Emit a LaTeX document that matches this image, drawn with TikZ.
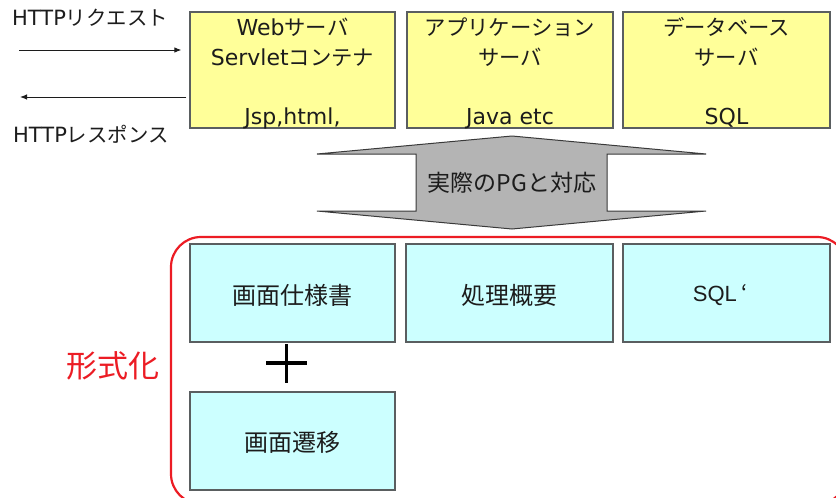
\documentclass[tikz,border=0pt]{standalone}
\usepackage{fontspec}
\setmainfont{DejaVu Sans}
\newfontfamily\jpfont[Scale=0.97]{Noto Sans CJK JP}
\newfontfamily\jpfontfull{Noto Sans CJK JP}
\newfontfamily\arialfont{Liberation Sans}
\usetikzlibrary{arrows.meta}

\newcommand\kana[1]{{\jpfont #1}}

\definecolor{boxedge}{HTML}{5A5E60}
\definecolor{srvyellow}{HTML}{FFFF99}
\definecolor{specblue}{HTML}{CCFFFF}
\definecolor{arrowgray}{HTML}{B4B4B4}
\definecolor{arrowedge}{HTML}{3A3A3A}
\definecolor{markred}{HTML}{EC1C24}
\definecolor{ink}{HTML}{1C1C1C}

\tikzset{
  srvbox/.style={draw=boxedge, fill=srvyellow, line width=1.2pt,
    minimum height=116pt, inner sep=0pt},
  specbox/.style={draw=boxedge, fill=specblue, line width=1.2pt,
    minimum height=98pt, inner sep=0pt},
  srvtext/.style={anchor=base, inner sep=0pt, text=ink,
    font=\fontsize{22}{26}\selectfont},
  spectext/.style={inner sep=0pt, text=ink,
    font=\jpfontfull\fontsize{24}{28}\selectfont},
  httptext/.style={anchor=base west, inner sep=0pt, text=ink,
    font=\fontsize{21}{26}\selectfont},
  flowarrow/.style={draw=ink, line width=1pt, -{Latex[length=7pt,width=5.5pt]}},
  pgarrow/.style={draw=arrowedge, fill=arrowgray, line width=1pt, line join=miter},
  formframe/.style={draw=markred, line width=2.2pt, rounded corners=30pt},
  plusstroke/.style={draw=black, line width=3.2pt},
}

\begin{document}
\begin{tikzpicture}[x=1pt,y=-1pt]
\useasboundingbox (0,0) rectangle (836,498);
\fill[white] (0,0) rectangle (836,498);

% --- server tier ---
\node[srvbox, minimum width=205pt] (web) at (292.5,70) {};
\node[srvbox, minimum width=206pt] (app) at (510,70) {};
\node[srvbox, minimum width=207pt] (db)  at (726.5,70) {};

\node[srvtext] (web1) at (292.5,35)  {Web\kana{サーバ}};
\node[srvtext] (web2) at (292.5,65)  {Servlet\kana{コンテナ}};
\node[srvtext] (web3) at (292.5,124) {Jsp,html,};

\node[srvtext] (app1) at (510,35)  {\kana{アプリケーション}};
\node[srvtext] (app2) at (510,65)  {\kana{サーバ}};
\node[srvtext] (app3) at (510,124) {Java etc};

\node[srvtext] (db1) at (726.5,35)  {\kana{データベース}};
\node[srvtext] (db2) at (726.5,65)  {\kana{サーバ}};
\node[srvtext] (db3) at (726.5,124) {SQL};

% --- HTTP request / response ---
\node[httptext] (req) at (12,25)  {HTTP\kana{リクエスト}};
\node[httptext] (res) at (13,142) {HTTP\kana{レスポンス}};
\coordinate (reqstart) at (19,50);
\coordinate (resend) at (20,97);
\draw[flowarrow, shorten >=8pt] (reqstart) -- (reqstart -| web.west);
\draw[flowarrow, shorten <=3pt] (resend -| web.west) -- (resend);

% --- up/down correspondence arrow ---
\draw[pgarrow] (317,154) -- (512,136) -- (706,154) -- (607,154) -- (607,211)
  -- (706,211) -- (512,229) -- (317,211) -- (416,211) -- (416,154) -- cycle;
\node[inner sep=0pt, text=ink, font=\jpfontfull\fontsize{23}{26}\selectfont]
  (pglabel) at (512,183) {実際のPGと対応};

% --- formalised documents ---
\begin{scope}
  \clip (0,0) rectangle (836,498);
  \draw[formframe] (171,237) rectangle (847,504);
\end{scope}

\node[specbox, minimum width=205pt] (screen) at (292.5,293) {};
\node[specbox, minimum width=207pt] (proc)   at (509.5,293) {};
\node[specbox, minimum width=207pt] (sqlx)   at (726.5,293) {};
\node[specbox, minimum width=205pt] (trans)  at (292.5,441) {};

\node[spectext] (screent) at (292.5,295) {画面仕様書};
\node[spectext] (proct)   at (509.5,295) {処理概要};
\node[spectext, font=\arialfont\fontsize{22}{26}\selectfont]
  (sqlt) at (720.5,295) {SQL\hspace{5pt}{\jpfontfull ‘}};
\node[spectext] (transt)  at (292.5,442) {画面遷移};

\draw[plusstroke] (266,363) -- (307,363) (286.5,344) -- (286.5,383);

\node[inner sep=0pt, text=markred, font=\jpfontfull\fontsize{31}{34}\selectfont]
  (formal) at (113,366) {形式化};
\end{tikzpicture}
\end{document}
